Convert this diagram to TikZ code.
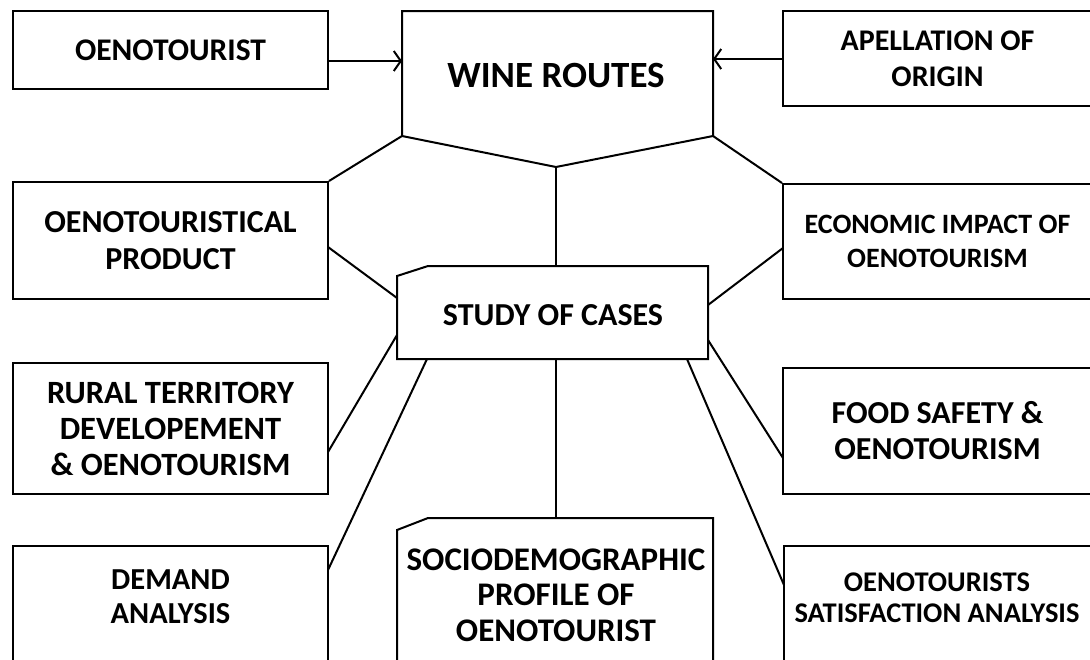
\documentclass[tikz,border=0pt]{standalone}
\usepackage{fontspec}
\setmainfont{Carlito}
\usetikzlibrary{arrows.meta}
\tikzset{
  ln/.style={line width=2pt, black},
  box/.style={draw, ln, rectangle, inner sep=0pt, align=center},
  lbl/.style={inner sep=0pt, align=center},
  arr/.style={ln, -{Straight Barb[length=7pt,width=20pt,line width=2pt]}},
  fs/.style={font=\fontsize{#1}{1.13*#1}\selectfont\bfseries},
}
\begin{document}
\begin{tikzpicture}[x=1pt,y=-1pt]
\useasboundingbox (0,0) rectangle (1090,659);
\clip (0,0) rectangle (1090,659);
\fill[white] (0,0) rectangle (1090,659);
% wine routes pentagon
\coordinate (wrTL) at (402,11);
\coordinate (wrTR) at (713,11);
\coordinate (wrBR) at (713,136);
\coordinate (wrTip) at (556,167);
\coordinate (wrBL) at (402,136);
\draw[ln] (wrTL) -- (wrTR) -- (wrBR) -- (wrTip) -- (wrBL) -- cycle;
\node[lbl,font=\fontsize{37}{42}\selectfont\bfseries] (wr) at (556,76) {WINE ROUTES};
\coordinate (wrW) at (402,61);
\coordinate (wrE) at (713,59);
% study of cases
\coordinate (scA) at (397,276);
\coordinate (scB) at (428,266);
\coordinate (scT) at (556,266);
\coordinate (scC) at (708,266);
\coordinate (scD) at (708,359);
\coordinate (scE) at (397,359);
\draw[ln] (scA) -- (scB) -- (scC) -- (scD) -- (scE) -- cycle;
\node[lbl,font=\fontsize{32}{36}\selectfont\bfseries] (sc) at (553,315) {STUDY OF CASES};
\coordinate (scL1) at (397,298);
\coordinate (scL2) at (397,335);
\coordinate (scR1) at (708,305);
\coordinate (scR2) at (708,340);
\coordinate (scB1) at (427,359);
\coordinate (scB2) at (556,359);
\coordinate (scB3) at (687,359);
% sociodemographic
\coordinate (soA) at (397,530);
\coordinate (soB) at (428,518);
\coordinate (soT) at (556,518);
\coordinate (soC) at (713,518);
\draw[ln] (397,700) -- (soA) -- (soB) -- (soC) -- (713,700);
\node[lbl,font=\fontsize{33}{35.5}\selectfont\bfseries] (so) at (556,595) {SOCIODEMOGRAPHIC\\PROFILE OF\\OENOTOURIST};
% rectangular boxes
\node[box,font=\fontsize{31.5}{36}\selectfont\bfseries,minimum width=315pt,minimum height=78pt] (oeno) at (170.5,50) {OENOTOURIST};
\node[box,font=\fontsize{30}{36}\selectfont\bfseries,minimum width=309pt,minimum height=95pt] (apel) at (937.5,58.5) {APELLATION OF\\ORIGIN};
\node[box,font=\fontsize{32}{37}\selectfont\bfseries,minimum width=315pt,minimum height=117pt] (prod) at (170.5,240.5) {OENOTOURISTICAL\\PRODUCT};
\node[box,font=\fontsize{28}{34}\selectfont\bfseries,minimum width=309pt,minimum height=115pt] (econ) at (937.5,241.5) {ECONOMIC IMPACT OF\\OENOTOURISM};
\node[box,font=\fontsize{32.5}{36}\selectfont\bfseries,minimum width=315pt,minimum height=131pt] (rural) at (170.5,428.5) {RURAL TERRITORY\\DEVELOPEMENT\\\&~OENOTOURISM};
\node[box,font=\fontsize{32}{36}\selectfont\bfseries,minimum width=309pt,minimum height=126pt] (food) at (937.5,431) {FOOD SAFETY \&\\OENOTOURISM};
\node[box,minimum width=315pt,minimum height=154pt] (demand) at (170.5,623) {};
\node[lbl,font=\fontsize{30.5}{34}\selectfont\bfseries] (demandt) at (170.5,597) {DEMAND\\ANALYSIS};
\node[box,minimum width=308pt,minimum height=154pt] (sat) at (938,623) {};
\node[lbl,font=\fontsize{28.5}{31}\selectfont\bfseries] (satt) at (937,598) {OENOTOURISTS\\SATISFACTION ANALYSIS};
% connection points on boxes
\coordinate (prodE) at (328,247);
\coordinate (econW) at (783,248);
\coordinate (ruralE) at (328,452);
\coordinate (foodW) at (783,458);
\coordinate (demandE) at (328,570);
\coordinate (satW) at (784,585);
\coordinate (oenoE) at (328,61);
\coordinate (apelW) at (783,59);
% connectors
\draw[arr] (oenoE) -- (wrW);
\draw[arr] (apelW) -- (wrE);
\draw[ln] (wrBL) -- (prod.north east);
\draw[ln] (wrBR) -- (econ.north west);
\draw[ln] (wrTip) -- (scT);
\draw[ln] (prodE) -- (scL1);
\draw[ln] (econW) -- (scR1);
\draw[ln] (ruralE) -- (scL2);
\draw[ln] (foodW) -- (scR2);
\draw[ln] (demandE) -- (scB1);
\draw[ln] (scB2) -- (soT);
\draw[ln] (scB3) -- (satW);
\end{tikzpicture}
\end{document}
